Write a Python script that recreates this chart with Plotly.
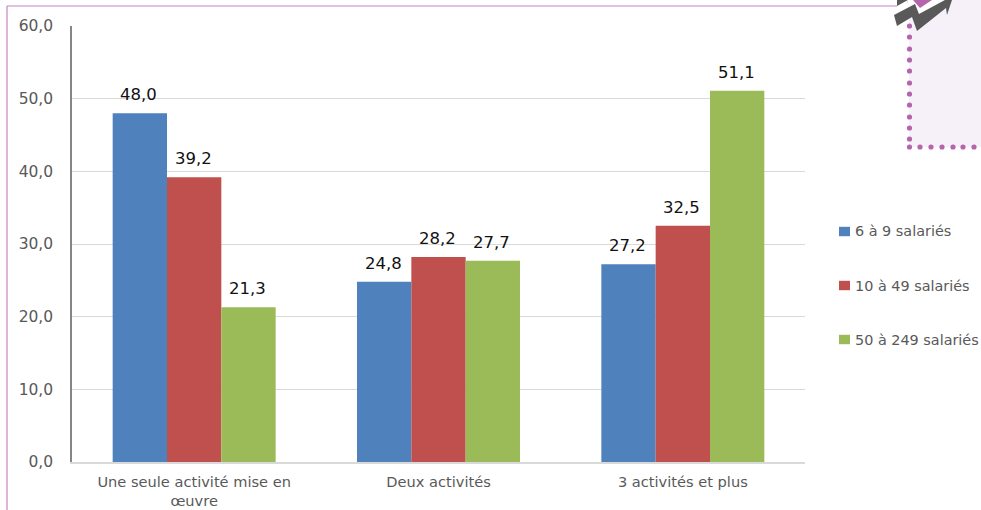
import plotly.graph_objects as go

categories = ["Une seule activité mise en<br>œuvre", "Deux activités", "3 activités et plus"]
series_names = ["6 à 9 salariés", "10 à 49 salariés", "50 à 249 salariés"]
small = [48.0, 24.8, 27.2]
medium = [39.2, 28.2, 32.5]
large = [21.3, 27.7, 51.1]
colors = ["#4F81BD", "#C0504D", "#9BBB59"]
tick_values = [0, 10, 20, 30, 40, 50, 60]
tick_labels = ["0,0", "10,0", "20,0", "30,0", "40,0", "50,0", "60,0"]

W, H = 981, 510
FONT = "DejaVu Sans, sans-serif"
GREY = "#595959"
BAR_PX = 54.3


def px(x):
    return x / W


def py(y):
    return 1 - y / H


def fr(v):
    return f"{v:.1f}".replace(".", ",")


fig = go.Figure()
annotations = []
all_series = [small, medium, large]
for s, (name, vals, col) in enumerate(zip(series_names, all_series, colors)):
    fig.add_trace(go.Bar(name=name, x=categories, y=vals,
                         marker=dict(color=col, line=dict(width=0))))
    # value labels sit well above each bar
    for cat, v in zip(categories, vals):
        annotations.append(dict(x=cat, y=v, xref="x", yref="y", text=fr(v), showarrow=False,
                                xanchor="center", yanchor="bottom", xshift=(s - 1) * BAR_PX - 1, yshift=7,
                                font=dict(size=16.5, color="#111111", family=FONT)))

shapes = []


def path_shape(pts, fill):
    d = "M" + " L".join(f"{px(x):.5f},{py(y):.5f}" for x, y in pts) + " Z"
    return dict(type="path", xref="paper", yref="paper", path=d, fillcolor=fill,
                line=dict(width=0), layer="below")


# tinted panel at the top right, with a dotted edge
shapes.append(dict(type="rect", xref="paper", yref="paper", x0=px(909), x1=1, y0=py(147), y1=1,
                   fillcolor="#F6F0F8", line=dict(width=0), layer="below"))
dot_ys = [3, 26, 37, 49, 60, 71, 83, 94, 105, 117, 128, 139, 147]
dot_xs = [920, 931, 942, 953, 963, 974]
for cx, cy in [(909.5, y) for y in dot_ys] + [(x, 147) for x in dot_xs]:
    shapes.append(dict(type="circle", xref="paper", yref="paper",
                       x0=px(cx - 2.6), x1=px(cx + 2.6), y0=py(cy + 2.6), y1=py(cy - 2.6),
                       fillcolor="#B565AC", line=dict(width=0), layer="below"))

# frame lines running along the top and left
shapes.append(dict(type="line", xref="paper", yref="paper", x0=px(7), x1=px(897), y0=py(6), y1=py(6),
                   line=dict(color="#C684BE", width=1.2), layer="below"))
shapes.append(dict(type="line", xref="paper", yref="paper", x0=px(7), x1=px(7), y0=py(6), y1=0,
                   line=dict(color="#C684BE", width=1.2), layer="below"))

# arrow emblem in the corner
shapes.append(path_shape([(897, 0), (908, 0), (897, 6)], GREY))
shapes.append(path_shape([(908, 0), (945, 0), (919, 14), (915, 4), (905, 9)], "#FFFFFF"))
shapes.append(path_shape([(913, 0), (932, 0), (920, 8)], "#B565AC"))
shapes.append(path_shape([(894, 15), (915, 4), (919, 14), (945, 0), (952, 0), (947, 15), (946, 8),
                          (917, 31), (912, 17), (897, 26)], GREY))

# legend column: swatches with their labels
legend_rows = [231.5, 285.5, 339.5]
for name, col, yc in zip(series_names, colors, legend_rows):
    shapes.append(dict(type="rect", xref="paper", yref="paper", x0=px(839), x1=px(850),
                       y0=py(yc + 4.7), y1=py(yc - 4.7), fillcolor=col, line=dict(width=0)))
    annotations.append(dict(x=px(854), y=py(yc), xref="paper", yref="paper", text=name, showarrow=False,
                            xanchor="left", yanchor="middle", xshift=-1,
                            font=dict(size=14.4, color=GREY, family=FONT)))

fig.update_layout(
    width=W, height=H, margin=dict(l=0, r=0, t=0, b=0, autoexpand=False), autosize=False,
    paper_bgcolor="white", plot_bgcolor="white",
    barmode="group", bargap=0.333, bargroupgap=0,
    showlegend=False,
    xaxis=dict(domain=[px(72), px(805)], showgrid=False, showline=True, linecolor="#D9D9D9",
               linewidth=1.5, ticks="", automargin=False, ticklabelstandoff=6,
               tickfont=dict(size=14.6, color=GREY, family=FONT)),
    yaxis=dict(domain=[py(462), py(26)], range=[0, 60], tickvals=tick_values, ticktext=tick_labels,
               showgrid=True, gridcolor="#D9D9D9", gridwidth=1, showline=True, linecolor="#868686",
               linewidth=1.5, ticks="", zeroline=False, automargin=False, ticklabelstandoff=14,
               tickfont=dict(size=15.5, color=GREY, family=FONT)),
    shapes=shapes,
    annotations=annotations,
)

fig.write_html("out.html")
